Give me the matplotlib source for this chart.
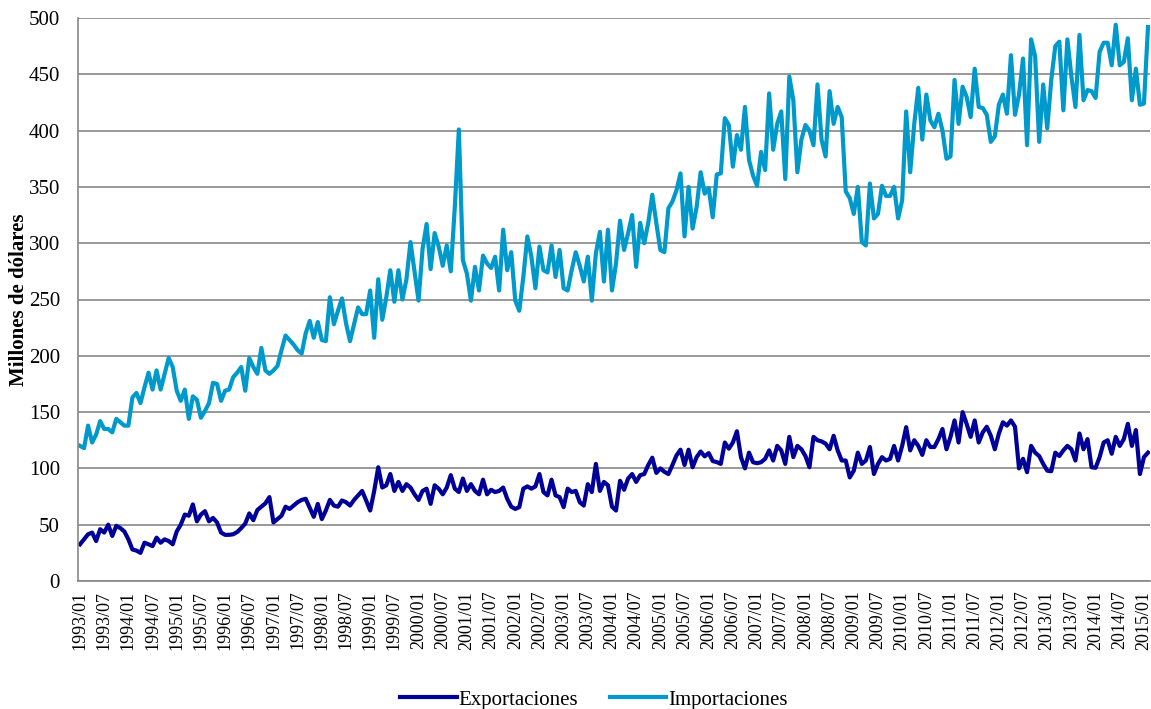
#balanza.py

#monthly exports and imports, 1993/01 - 2015/02

import matplotlib
matplotlib.use('Agg')
import matplotlib.pyplot as plt
import numpy as np

plt.rcParams['font.family'] = ['Liberation Serif', 'DejaVu Serif']

anio_inicio = 1993
n_meses = 266

exportaciones = [32.6, 37, 41.5, 43, 35.5, 46, 43, 50, 40, 49, 47, 44, 37, 28, 27, 25, 34, 32.6, 31, 38.5,
                 34, 37, 35.5, 32.6, 44, 50, 59, 58, 68, 53, 59, 62, 53, 56, 52, 43, 41, 41, 41.5, 43.5,
                 47, 51, 60, 54, 63, 66, 69, 74.5, 52, 55, 58, 66, 64, 67, 70, 72, 73, 65, 57, 68.5,
                 55, 62.6, 72, 67, 66, 71.5, 70, 67, 72, 76, 80, 71.5, 62.6, 80, 101, 83, 85, 95, 80, 88,
                 80, 86, 83, 77, 72, 80, 82, 68.5, 85, 82, 77, 83, 94, 82, 79, 91, 80, 86, 80, 77,
                 90, 77, 81, 79, 80, 83, 73, 66, 64, 65.6, 82, 84, 82, 84, 95, 79, 76, 90, 76, 74.5,
                 65.6, 82, 79, 80, 70, 67, 86, 79, 104, 80, 88, 85, 66, 62.6, 89, 81, 91, 95, 88, 94,
                 95, 103, 109.5, 96, 100, 97, 95, 103, 111.5, 116.6, 103, 116.6, 101, 110, 115, 110.7, 113.6, 106.5, 105.6, 104,
                 123, 117.5, 123, 133, 110, 100, 114, 105.5, 104.6, 105.5, 108.5, 116, 107, 120, 116, 104, 128, 110, 120, 117,
                 111, 101, 128, 125, 124, 122, 117, 129, 116, 107, 107, 92, 98, 114, 104, 107, 119, 95, 104, 110,
                 107, 108.5, 120, 107, 120, 136.6, 116, 125, 120, 112, 125, 119, 119, 126, 135, 117, 128, 142.6, 123, 150,
                 139.6, 128, 142.6, 123, 132, 137, 129, 117, 131, 141, 138, 142.6, 137, 100, 108.5, 96.6, 120, 114, 111, 104,
                 98, 97.5, 114, 111, 116, 120, 117, 107, 131, 117, 126, 101, 100.5, 110, 123, 125, 113, 128, 120, 126,
                 139.6, 120, 134, 95, 110, 114]

importaciones = [120, 118, 138, 123, 130, 142, 135, 135, 132, 144, 141, 138, 138, 163, 167, 158, 172, 185, 170, 187,
                 170, 184, 198, 190, 169, 160, 170, 144, 164, 161, 145, 151, 158, 176, 175, 160, 169, 170, 181, 185,
                 190, 169, 198, 190, 184, 207, 187, 184, 187, 191, 205, 218, 214, 210, 205, 202, 220, 231, 216, 230,
                 214, 213, 252, 228, 240, 251, 229, 213, 228, 243, 237, 237, 258, 216, 268, 232, 252, 276, 248, 276,
                 250, 268, 301, 275, 249, 295, 317, 277, 309, 297, 280, 298, 275, 332, 401, 285, 273, 249, 279, 258,
                 289, 282, 278, 288, 258, 312, 276, 292, 249, 240, 270, 306, 288, 260, 297, 276, 274, 298, 270, 294,
                 260, 258, 276, 292, 280, 266, 288, 249, 291, 310, 266, 312, 258, 282, 320, 294, 309, 325, 279, 318,
                 300, 318, 343, 318, 294, 292, 331, 337, 347, 362, 306, 350, 313, 332, 363, 344, 349, 323, 361, 362,
                 411, 405, 368, 396, 383, 421, 374, 360, 351, 381, 365, 433, 383, 406, 417, 357, 448, 427, 363, 392,
                 405, 400, 387, 441, 392, 377, 435, 406, 421, 412, 346, 340, 326, 350, 301, 298, 353, 322, 326, 351,
                 342, 342, 350, 322, 338, 417, 363, 406, 438, 392, 432, 409, 403, 415, 400, 375, 377, 445, 406, 439,
                 430, 412, 455, 421, 420, 414, 390, 395, 423, 432, 415, 467, 414, 432, 464, 387, 481, 466, 390, 441,
                 402, 445, 475, 479, 418, 481, 448, 421, 485, 427, 436, 435, 429, 470, 478, 478, 458, 494, 458, 461,
                 482, 427, 455, 423, 424, 492]

#tick label every 6 months
meses = ['%d/%02d' % (anio_inicio + k // 12, k % 12 + 1) for k in range(n_meses)]
pos_ticks = list(range(0, n_meses, 6))

gris = '#878787'

fig = plt.figure(figsize=(11.51, 7.09), dpi=100)
ax = fig.add_axes([78/1151, 1 - 581/709, 1072/1151, 563/709])

x = np.arange(n_meses)
ax.plot(x, exportaciones, color='#000099', lw=3.0, label='Exportaciones', solid_joinstyle='round')
ax.plot(x, importaciones, color='#0099CC', lw=3.0, label='Importaciones', solid_joinstyle='round')

ax.set_xlim(-0.5, n_meses - 0.5)
ax.set_ylim(0, 500)
ax.set_yticks(range(0, 501, 50))
ax.set_xticks(pos_ticks)
ax.set_xticklabels([meses[k] for k in pos_ticks], rotation=90, fontsize=13)
ax.tick_params(axis='y', labelsize=15, length=0, pad=13)
ax.tick_params(axis='x', length=0, pad=7)

ax.grid(axis='y', color=gris, lw=1.2)
ax.set_axisbelow(True)
for s in ['top', 'right']:
    ax.spines[s].set_visible(False)
for s in ['left', 'bottom']:
    ax.spines[s].set_color(gris)
    ax.spines[s].set_linewidth(1.2)

ax.set_ylabel('Millones de dólares', fontsize=15, fontweight='bold', labelpad=0)

fig.legend(loc='center', bbox_to_anchor=(0.516, 0.013), ncol=2, frameon=False,
           fontsize=15, handlelength=2.7, handletextpad=0.1, columnspacing=1.5)

fig.savefig('out.png', dpi=100)
